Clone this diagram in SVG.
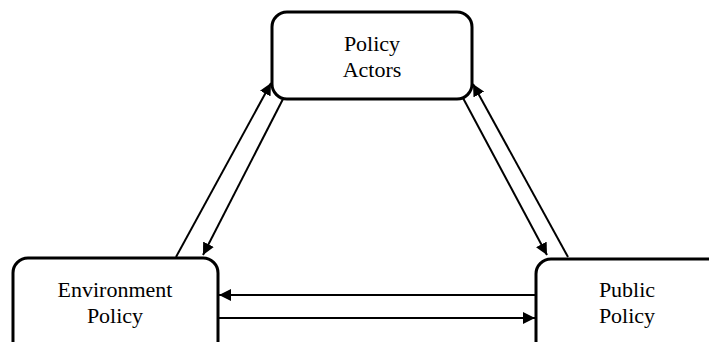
<svg xmlns="http://www.w3.org/2000/svg" width="709" height="342" viewBox="0 0 709 342">
<style>
.box{fill:#fff;stroke:#000;stroke-width:3}
.t{font-family:"Liberation Serif","Times New Roman",serif;font-size:22px;fill:#000;text-anchor:middle}
.c{stroke:#000;stroke-width:2;fill:none;marker-end:url(#ah)}
</style>
<defs>
<marker id="ah" viewBox="0 0 10 10" refX="10" refY="5" markerWidth="6" markerHeight="6" markerUnits="strokeWidth" orient="auto">
<path d="M0,0 L10,5 L0,10 z" fill="#000"/>
</marker>
</defs>
<rect width="709" height="342" fill="#fff"/>
<g id="connectors">
<line class="c" x1="176" y1="257" x2="271" y2="83"/>
<line class="c" x1="283" y1="99" x2="203" y2="255"/>
<line class="c" x1="463" y1="98" x2="547" y2="255"/>
<line class="c" x1="568" y1="257" x2="473" y2="84"/>
<line class="c" x1="536" y1="295" x2="219" y2="295"/>
<line class="c" x1="219" y1="318" x2="535" y2="318"/>
</g>
<g id="policy-actors">
<rect class="box" x="272" y="12" width="200" height="87" rx="15"/>
<text class="t" x="372" y="51">Policy</text>
<text class="t" x="372" y="77">Actors</text>
</g>
<g id="environment-policy">
<rect class="box" x="13" y="258" width="205" height="100" rx="15"/>
<text class="t" x="115" y="297">Environment</text>
<text class="t" x="115" y="323">Policy</text>
</g>
<g id="public-policy">
<rect class="box" x="536" y="259" width="200" height="100" rx="15"/>
<text class="t" x="627" y="297">Public</text>
<text class="t" x="627" y="323">Policy</text>
</g>
</svg>
